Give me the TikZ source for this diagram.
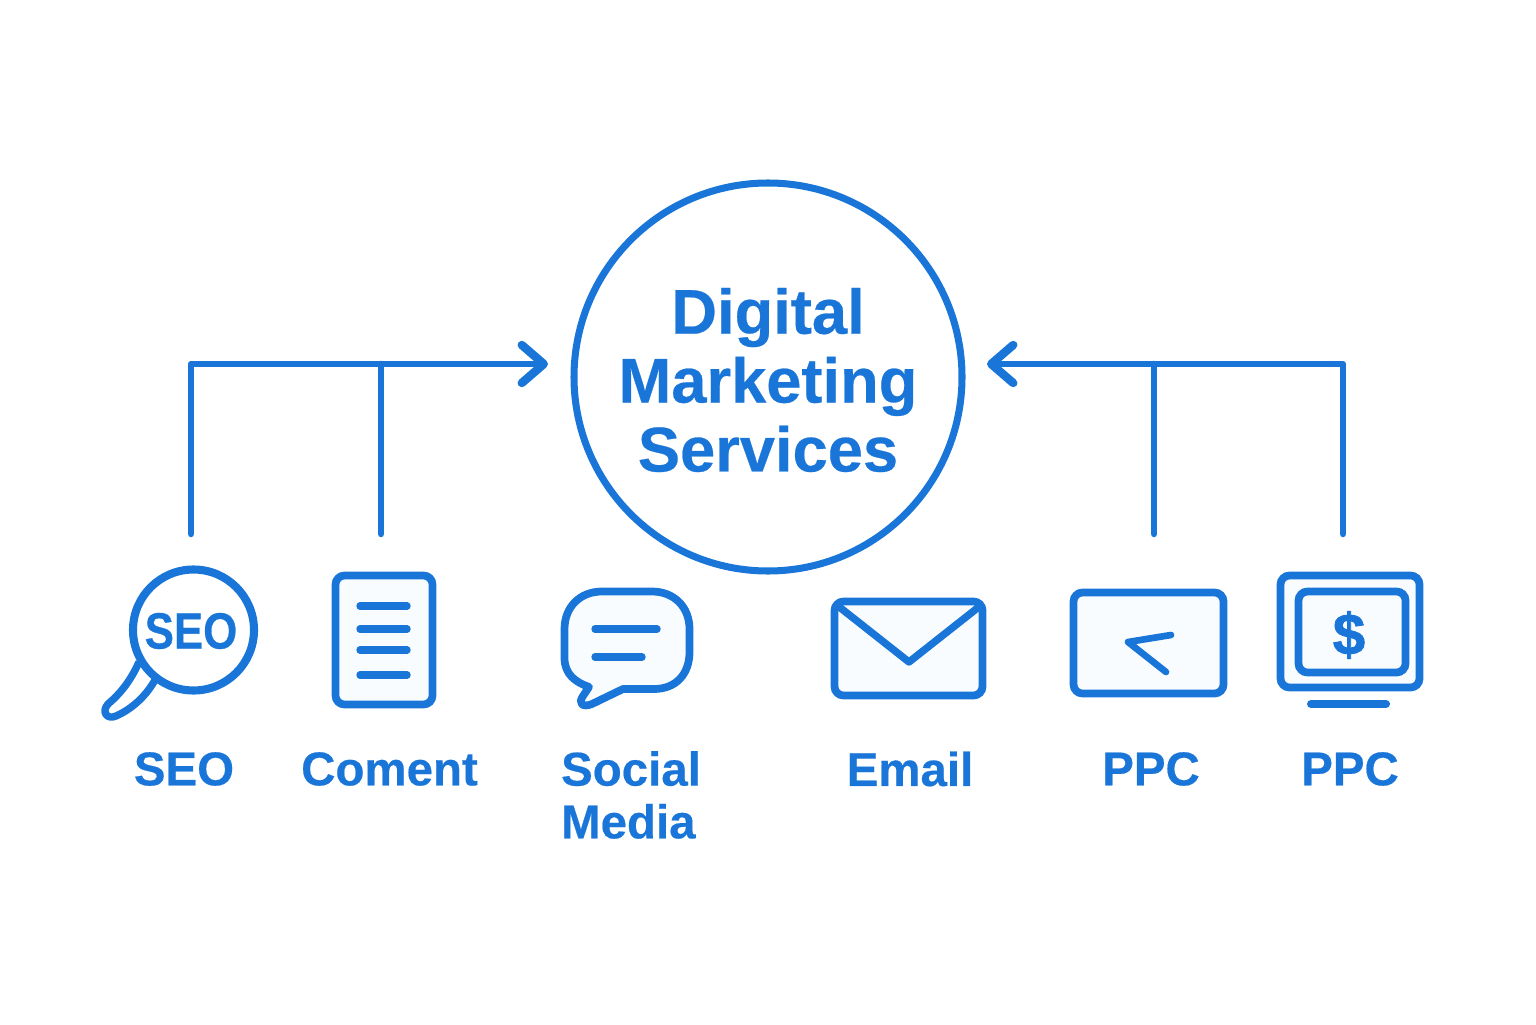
\documentclass[tikz,border=0pt]{standalone}
\usepackage{fontspec}
\setmainfont{Liberation Sans}
\usetikzlibrary{calc,arrows.meta}
\definecolor{brandblue}{HTML}{1976D8}
\definecolor{iconfill}{HTML}{F8FCFF}
\tikzset{
  wire/.style={draw=brandblue,line width=1.85pt,line cap=round,line join=round},
  tipped/.style={wire,-{Straight Barb[length=0.22cm,width=0.38cm,round,line width=2.4pt]}},
  icon/.style={draw=brandblue,fill=iconfill,line width=2.2pt,rounded corners=0.09cm},
  iconline/.style={draw=brandblue,line width=2.1pt,line cap=round,line join=round},
  label/.style={text=brandblue,font=\bfseries\fontsize{13.5}{15}\selectfont\addfontfeature{FakeBold=0.4},align=left,inner sep=0pt},
}

\begin{document}
\begin{tikzpicture}
  \useasboundingbox (0,0) rectangle (15.36,10.24);

  \node[circle,draw=brandblue,line width=2pt,minimum size=3.88cm,inner sep=0pt] (hub) at (7.68,6.47) {};
  \node[align=center,inner sep=0pt,text=brandblue,font=\bfseries\fontsize{18}{19.6}\selectfont\addfontfeature{FakeBold=0.4}] (hubText) at (7.68,6.44) {Digital\\Marketing\\Services};

  \coordinate (hubL) at (5.48,6.60);
  \coordinate (hubR) at (9.87,6.60);
  \coordinate (leftA) at (1.91,4.90);
  \coordinate (leftB) at (3.81,4.90);
  \coordinate (rightA) at (11.54,4.90);
  \coordinate (rightB) at (13.43,4.90);

  \draw[tipped] (leftA) |- (hubL);
  \draw[wire] (leftB) -- (leftB |- hubL);
  \draw[tipped] (rightB) |- (hubR);
  \draw[wire] (rightA) -- (rightA |- hubR);

  \draw[draw=brandblue,line width=2.1pt,line join=round] (1.39,3.62) .. controls (1.31,3.44) and (1.21,3.31) .. (1.08,3.20) .. controls (1.01,3.12) and (1.07,3.04) .. (1.16,3.08) .. controls (1.32,3.15) and (1.46,3.28) .. (1.55,3.44);
  \draw[draw=brandblue,line width=2.3pt] (1.935,3.94) circle [radius=0.605cm];
  \node[xscale=0.86,transform shape,text=brandblue,font=\bfseries\fontsize{14.5}{15}\selectfont\addfontfeature{FakeBold=0.6},inner sep=0pt] (seoMark) at (1.91,3.93) {SEO};

  \draw[icon] (3.355,3.195) rectangle (4.325,4.485);
  \draw[iconline] (3.60,4.18) -- (4.07,4.18);
  \draw[iconline] (3.60,3.95) -- (4.07,3.95);
  \draw[iconline] (3.60,3.74) -- (4.07,3.74);
  \draw[iconline] (3.60,3.49) -- (4.07,3.49);

  \draw[draw=brandblue,fill=iconfill,line width=2.2pt,line join=round] (5.645,3.95) .. controls (5.645,4.17) and (5.80,4.325) .. (6.02,4.325) -- (6.52,4.325) .. controls (6.74,4.325) and (6.895,4.17) .. (6.895,3.95) -- (6.895,3.72) .. controls (6.895,3.50) and (6.76,3.35) .. (6.54,3.35) -- (6.23,3.35) -- (5.92,3.20) .. controls (5.82,3.16) and (5.78,3.21) .. (5.83,3.28) -- (5.89,3.37) .. controls (5.75,3.42) and (5.645,3.50) .. (5.645,3.66) -- cycle;
  \draw[iconline] (5.95,3.95) -- (6.57,3.95);
  \draw[iconline] (5.95,3.67) -- (6.42,3.67);

  \draw[icon] (8.345,3.285) rectangle (9.825,4.225);
  \draw[iconline] (8.38,4.18) -- (9.09,3.62) -- (9.80,4.18);

  \draw[icon] (10.735,3.305) rectangle (12.235,4.315);
  \draw[iconline,line width=1.9pt] (11.71,3.89) -- (11.28,3.82) -- (11.66,3.52);

  \draw[icon] (12.805,3.365) rectangle (14.195,4.485);
  \draw[icon] (12.985,3.515) rectangle (14.055,4.325);
  \node[text=brandblue,font=\bfseries\fontsize{16.5}{17}\selectfont\addfontfeature{FakeBold=1.5},inner sep=0pt] (dollar) at (13.49,3.89) {\$};
  \draw[iconline,line width=2.3pt] (13.11,3.20) -- (13.86,3.20);

  \node[label] (seoLabel) at (1.84,2.55) {SEO};
  \node[label] (contentLabel) at (3.895,2.55) {Coment};
  \node[label] (socialLabel) at (6.31,2.29) {Social\\Media};
  \node[label] (emailLabel) at (9.10,2.55) {Email};
  \node[label] (ppcLabel) at (11.51,2.55) {PPC};
  \node[label] (ppcDollarLabel) at (13.50,2.55) {PPC};
\end{tikzpicture}
\end{document}
